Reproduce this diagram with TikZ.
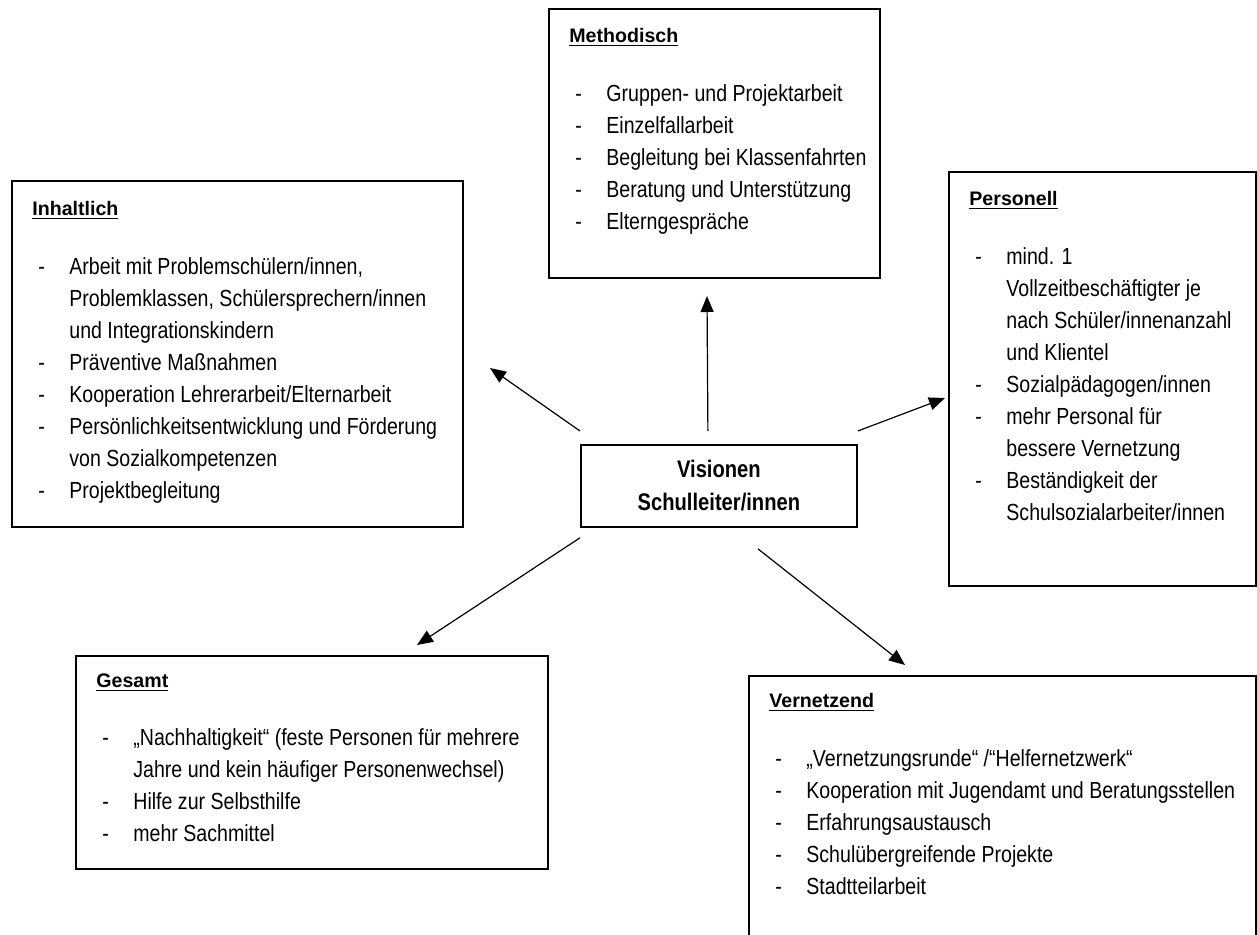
\documentclass[tikz,border=0pt]{standalone}
\usepackage{fontspec}
\setmainfont{Liberation Sans}
\newfontfamily\schmal[FakeStretch=0.84]{Liberation Sans}
\usetikzlibrary{arrows.meta}

\newcommand{\itm}[1]{\makebox[18.5pt][l]{\hspace{3pt}-}#1}
\newcommand{\weiter}[1]{\hspace*{18.5pt}#1}
\newcommand{\kopf}[1]{{\rmfamily\bfseries\fontsize{9.8}{16}\selectfont\underline{#1}}}

\tikzset{
	box/.style={shape=rectangle,draw=black,line width=0.9pt,anchor=north west,inner sep=0pt},
	liste/.style={anchor=north west,align=left,inner sep=0pt,font=\schmal\fontsize{11.65}{16}\selectfont},
	pfeil/.style={-{Triangle[length=8pt,width=6.5pt]},line width=0.6pt}
}

\begin{document}
\begin{tikzpicture}[x=0.5pt,y=-0.5pt]
	
	\useasboundingbox (0,0) rectangle (1257,935);
	
	% Kaesten
	\node[box,minimum width=165.5pt,minimum height=134.5pt] (methodisch) at (548,8)   {};
	\node[box,minimum width=225.5pt,minimum height=173pt]   (inhaltlich) at (11,180)  {};
	\node[box,minimum width=153.5pt,minimum height=207pt]   (personell)  at (948,171) {};
	\node[box,minimum width=236pt,minimum height=106.5pt]   (gesamt)     at (75,655)  {};
	\node[box,minimum width=253.5pt,minimum height=150pt]   (vernetzend) at (748,675) {};
	\node[box,minimum width=138pt,minimum height=41pt,align=center,
		font=\schmal\bfseries\fontsize{12}{16.5}\selectfont] (vis) at (580,444) {Visionen\\Schulleiter/innen};
	
	% Texte
	\node[liste] (methodisch text) at (569,28) {\kopf{Methodisch}\\[13.25pt]
		\itm{Gruppen- und Projektarbeit}\\
		\itm{Einzelfallarbeit}\\
		\itm{Begleitung bei Klassenfahrten}\\
		\itm{Beratung und Unterstützung}\\
		\itm{Elterngespräche}};
	\node[liste] (inhaltlich text) at (32,201) {\kopf{Inhaltlich}\\[13.25pt]
		\itm{Arbeit mit Problemschülern/innen,}\\
		\weiter{Problemklassen, Schülersprechern/innen}\\
		\weiter{und Integrationskindern}\\
		\itm{Präventive Maßnahmen}\\
		\itm{Kooperation Lehrerarbeit/Elternarbeit}\\
		\itm{Persönlichkeitsentwicklung und Förderung}\\
		\weiter{von Sozialkompetenzen}\\
		\itm{Projektbegleitung}};
	\node[liste] (personell text) at (969,191) {\kopf{Personell}\\[13.25pt]
		\itm{mind. 1}\\
		\weiter{Vollzeitbeschäftigter je}\\
		\weiter{nach Schüler/innenanzahl}\\
		\weiter{und Klientel}\\
		\itm{Sozialpädagogen/innen}\\
		\itm{mehr Personal für}\\
		\weiter{bessere Vernetzung}\\
		\itm{Beständigkeit der}\\
		\weiter{Schulsozialarbeiter/innen}};
	\node[liste] (gesamt text) at (96,673) {\kopf{Gesamt}\\[13.25pt]
		\itm{„Nachhaltigkeit“ (feste Personen für mehrere}\\
		\weiter{Jahre und kein häufiger Personenwechsel)}\\
		\itm{Hilfe zur Selbsthilfe}\\
		\itm{mehr Sachmittel}};
	\node[liste] (vernetzend text) at (769,693) {\kopf{Vernetzend}\\[13.25pt]
		\itm{„Vernetzungsrunde“ /“Helfernetzwerk“}\\
		\itm{Kooperation mit Jugendamt und Beratungsstellen}\\
		\itm{Erfahrungsaustausch}\\
		\itm{Schulübergreifende Projekte}\\
		\itm{Stadtteilarbeit}};
	
	% Pfeile
	\coordinate (ziel inhaltlich) at (490,368);
	\coordinate (ziel methodisch) at (707,296);
	\coordinate (ziel personell)  at (945,398);
	\coordinate (ziel gesamt)     at (417,645);
	\coordinate (ziel vernetzend) at (905,665);
	
	\path[pfeil] ([yshift=6.5pt]vis.north west) edge (ziel inhaltlich);
	\path[pfeil] ([xshift=-5.5pt,yshift=6.5pt]vis.north) edge (ziel methodisch);
	\path[pfeil] ([yshift=6.5pt]vis.north east) edge (ziel personell);
	\path[pfeil] ([yshift=-5pt]vis.south west) edge (ziel gesamt);
	\path[pfeil] ([xshift=19.5pt,yshift=-10.5pt]vis.south) edge (ziel vernetzend);
	
\end{tikzpicture}
\end{document}
